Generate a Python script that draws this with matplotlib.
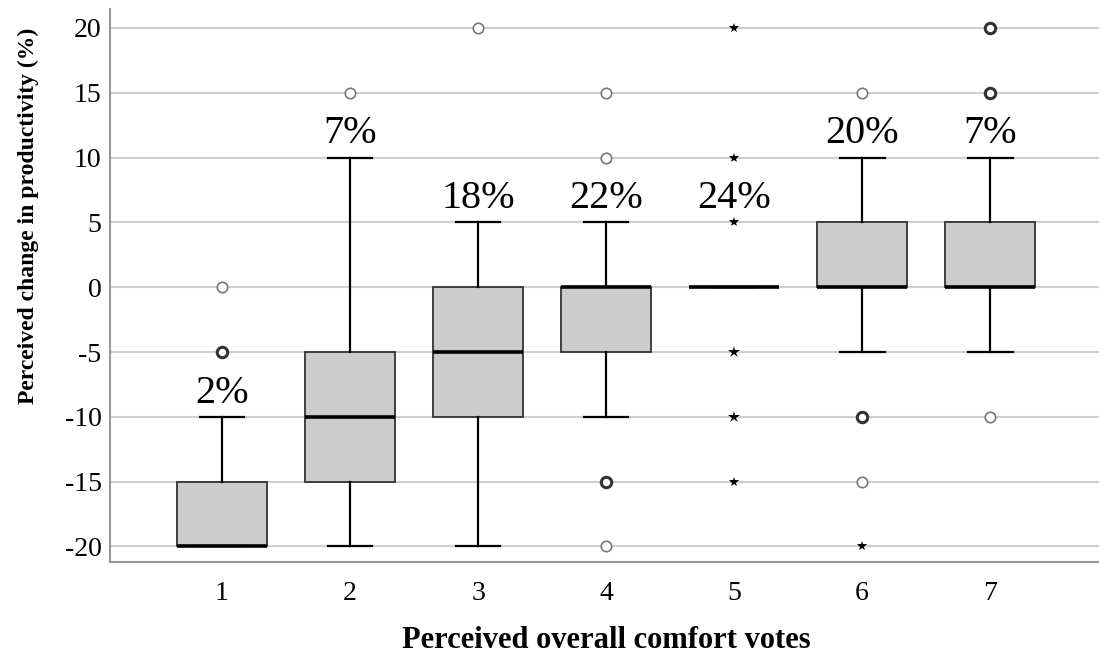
import numpy as np
import matplotlib.pyplot as plt

plt.rcParams['font.family'] = ['Liberation Serif', 'DejaVu Serif']
plt.rcParams['axes.unicode_minus'] = False

# comfort vote groups and their box statistics (% change in productivity)
votes = [1, 2, 3, 4, 5, 6, 7]
q1 = [-20, -15, -10, -5, 0, 0, 0]
med = [-20, -10, -5, 0, 0, 0, 0]
q3 = [-15, -5, 0, 0, 0, 5, 5]
whislo = [-20, -20, -20, -10, 0, -5, -5]
whishi = [-10, 10, 5, 5, 0, 10, 10]
share = ['2%', '7%', '18%', '22%', '24%', '20%', '7%']

# outliers (circles) and extremes (stars); repeated values mark overlapping cases
outliers = [[0, -5, -5], [15], [20], [15, 10, -15, -15, -20], [], [15, -10, -10, -15], [20, 20, 15, 15, -10]]
extremes = [[], [], [], [], [20, 10, 5, -5, -5, -10, -10, -15], [-20], []]

stats = []
for i in range(len(votes)):
    stats.append(dict(med=med[i], q1=q1[i], q3=q3[i], whislo=whislo[i],
                      whishi=whishi[i], fliers=[], label=str(votes[i])))

fig = plt.figure(figsize=(10.99, 6.55), dpi=100)
ax = fig.add_axes([0.1, 0.142, 0.9, 0.845])

ax.bxp(stats, positions=votes, widths=0.7, patch_artist=True, showfliers=False,
       boxprops=dict(facecolor='#cccccc', edgecolor='#333333', linewidth=1.3),
       medianprops=dict(color='black', linewidth=2.6),
       whiskerprops=dict(color='black', linewidth=1.6),
       capprops=dict(color='black', linewidth=1.6), capwidths=0.35,
       zorder=3)

for x, vals in zip(votes, outliers):
    if not vals:
        continue
    uv, cnt = np.unique(vals, return_counts=True)
    for v, c in zip(uv, cnt):
        ax.plot(x, v, 'o', ms=7.5, mfc='white', mec='#333333' if c > 1 else '#777777',
                mew=2.2 if c > 1 else 1.2, zorder=4)

for x, vals in zip(votes, extremes):
    if not vals:
        continue
    uv, cnt = np.unique(vals, return_counts=True)
    for v, c in zip(uv, cnt):
        ax.plot(x, v, '*', ms=9 if c > 1 else 7, color='black', mew=0, zorder=4)

# share labels sit above the upper whisker, or above the first star over it
for x, hi, ext, s in zip(votes, whishi, extremes, share):
    above = [v for v in ext if v > hi]
    base = min(above) if above else hi
    ax.text(x, base + 1.1, s, ha='center', va='baseline', fontsize=29)

ax.set_xlim(0.125, 7.85)
ax.set_ylim(-21.2, 21.5)
ax.set_yticks(np.arange(-20, 21, 5))
ax.set_xticks(votes)
ax.grid(axis='y', color='#cfcfcf', linewidth=1.5, zorder=0)
ax.set_axisbelow(True)
ax.tick_params(length=0, labelsize=20)
ax.tick_params(axis='y', pad=6)
ax.tick_params(axis='x', pad=14)
for side in ['top', 'right']:
    ax.spines[side].set_visible(False)
for side in ['left', 'bottom']:
    ax.spines[side].set_color('#999999')
    ax.spines[side].set_linewidth(1.5)

ax.set_xlabel('Perceived overall comfort votes', fontsize=22, fontweight='bold')
ax.set_ylabel('Perceived change in productivity (%)', fontsize=17, fontweight='bold')
ax.xaxis.set_label_coords(0.502, -0.115)
ax.yaxis.set_label_coords(-0.072, 0.626)

fig.savefig('out.png', dpi=100)
